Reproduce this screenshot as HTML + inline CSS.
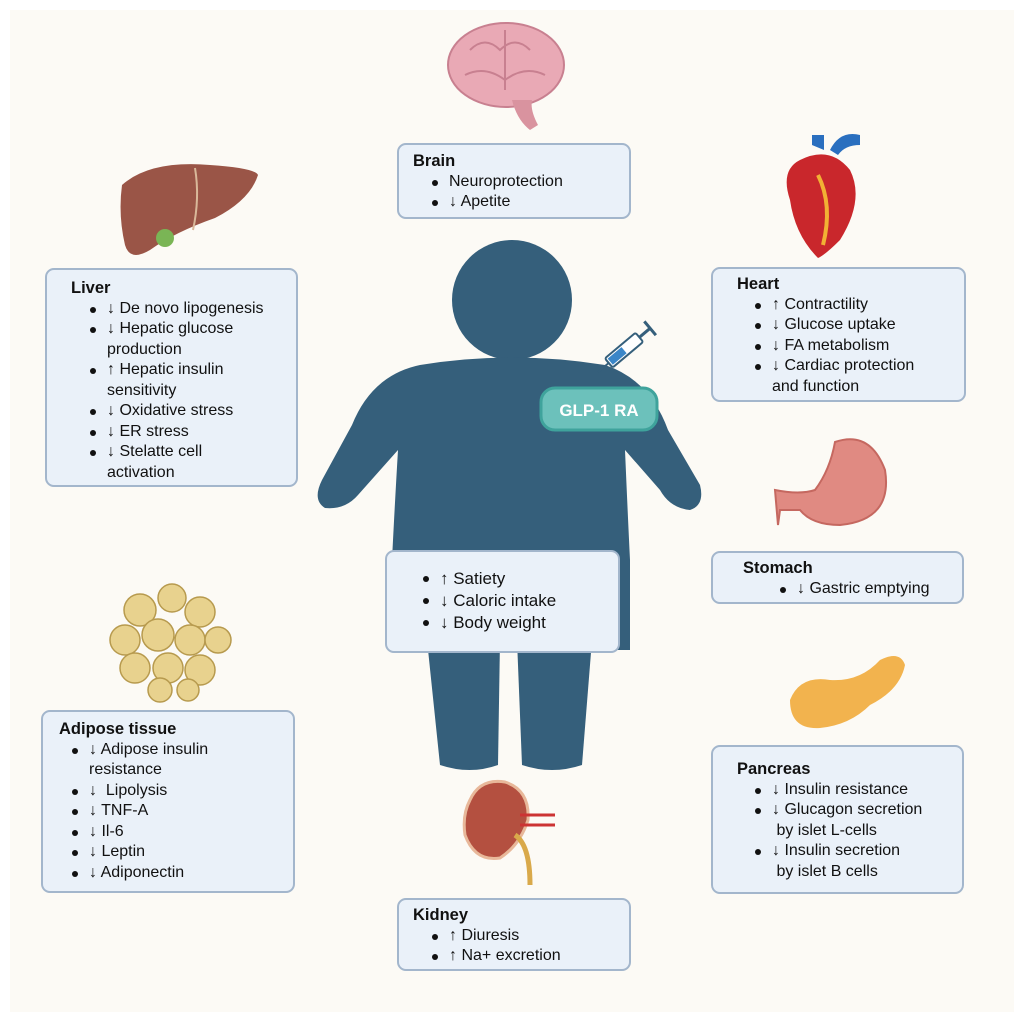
<!DOCTYPE html>
<html><head><meta charset="utf-8"><style>
body{margin:0;width:1024px;height:1022px;background:#fff;position:relative;overflow:hidden;font-family:"Liberation Sans",Arial,sans-serif;}
.bg{position:absolute;left:10px;top:10px;width:1004px;height:1002px;background:#fcfaf5;}
.box{position:absolute;background:#eaf1f9;border:2px solid #a3b6cc;border-radius:9px;box-sizing:border-box;font-size:16px;line-height:20.5px;color:#111;white-space:nowrap;}
.box b{display:block;font-size:16.5px;}
.box ul{margin:0;padding:0 0 0 36px;list-style:none;}
.box li{position:relative;}
.box li:before{content:"";position:absolute;left:-17px;top:8px;width:6px;height:6px;border-radius:50%;background:#111;}
svg{position:absolute;left:0;top:0;}
</style></head><body>
<div class="bg"></div>
<svg width="1024" height="1022">
 <g fill="#355f7b">
  <circle cx="512" cy="300" r="60"/>
  <path d="M420 365 Q512 350 605 365 Q650 380 668 430 L700 485 Q705 505 690 510 Q670 508 660 490 L625 450 Q628 520 630 560 L630 650 L390 650 L392 560 Q395 500 398 450 L358 495 Q345 510 325 508 Q312 500 322 480 L352 425 Q372 375 420 365 Z"/>
  <path d="M427 640 L500 640 L498 765 Q470 775 440 765 Z"/>
  <path d="M517 640 L592 640 L582 765 Q552 775 522 765 Z"/>
 </g>
 <g transform="translate(598,372) rotate(-40)">
  <line x1="0" y1="0" x2="14" y2="0" stroke="#355f7b" stroke-width="2"/>
  <rect x="14" y="-6" width="40" height="12" rx="2" fill="#fff" stroke="#355f7b" stroke-width="2"/>
  <rect x="16" y="-4" width="18" height="8" fill="#3a86c8"/>
  <line x1="54" y1="0" x2="68" y2="0" stroke="#355f7b" stroke-width="3"/>
  <line x1="68" y1="-9" x2="68" y2="9" stroke="#355f7b" stroke-width="3"/>
 </g>
 <rect x="541" y="388" width="116" height="42" rx="14" fill="#6cc1bb" stroke="#3fa39c" stroke-width="3"/>
 <text x="599" y="416" text-anchor="middle" font-family="Liberation Sans" font-weight="bold" font-size="17" fill="#fff">GLP-1 RA</text>
 <ellipse cx="506" cy="65" rx="58" ry="42" fill="#e9a9b5" stroke="#c88090" stroke-width="2"/>
 <path d="M470 50 q15 -15 30 0 q15 -15 30 0 M465 75 q20 -10 40 5 q20 -15 40 -5 M505 30 v60" stroke="#c88090" stroke-width="2" fill="none"/>
 <path d="M512 100 q5 20 18 30 l8 -5 q-8 -15 -6 -25z" fill="#d9939f"/>
 <path d="M122 185 Q150 160 210 165 Q255 168 258 175 Q250 200 215 218 Q175 232 150 250 Q130 262 125 245 Q118 215 122 185Z" fill="#9a5547"/>
 <circle cx="165" cy="238" r="9" fill="#7ab555"/>
 <path d="M195 168 q5 30 -2 62" stroke="#d9b89a" stroke-width="2" fill="none"/>
 <path d="M790 200 Q780 170 800 160 Q830 145 850 170 Q865 200 840 240 Q825 255 818 258 Q795 235 790 200Z" fill="#c9272c"/>
 <path d="M812 145 v-10 h12 v15 M830 150 q10 -20 30 -15 v10 q-15 0 -22 10" fill="#2a6fbf"/>
 <path d="M818 175 q15 30 5 70" stroke="#f2b134" stroke-width="4" fill="none"/>
 <path d="M835 442 Q870 430 885 470 Q893 520 840 525 Q812 525 800 510 L780 510 L778 525 L775 490 Q800 495 815 490 Q830 470 835 442Z" fill="#e08a82" stroke="#c56860" stroke-width="2"/>
 <g fill="#e8d28e" stroke="#b79a4e" stroke-width="1.5">
  <circle cx="140" cy="610" r="16"/><circle cx="172" cy="598" r="14"/><circle cx="200" cy="612" r="15"/><circle cx="125" cy="640" r="15"/><circle cx="158" cy="635" r="16"/><circle cx="190" cy="640" r="15"/><circle cx="218" cy="640" r="13"/><circle cx="135" cy="668" r="15"/><circle cx="168" cy="668" r="15"/><circle cx="200" cy="670" r="15"/><circle cx="160" cy="690" r="12"/><circle cx="188" cy="690" r="11"/>
 </g>
 <path d="M790 700 Q800 675 830 680 Q860 682 880 660 Q900 650 905 665 Q900 690 870 705 Q850 725 820 728 Q790 730 790 700Z" fill="#f2b34e"/>
 <path d="M470 800 Q480 778 505 782 Q530 790 528 820 Q520 845 500 858 Q475 862 465 835 Q462 815 470 800Z" fill="#b45040" stroke="#e8b89a" stroke-width="3"/>
 <path d="M520 815 h35 M520 825 h35" stroke="#c33" stroke-width="3"/>
 <path d="M515 835 q15 10 15 50" stroke="#d9a94a" stroke-width="5" fill="none"/>
</svg>

<div class="box" style="left:397px;top:143px;width:234px;height:76px;padding:6px 0 0 14px;"><b>Brain</b><ul><li>Neuroprotection</li><li>↓ Apetite</li></ul></div>

<div class="box" style="left:45px;top:268px;width:253px;height:219px;padding:8px 0 0 24px;"><b>Liver</b><ul><li>↓ De novo lipogenesis</li><li>↓ Hepatic glucose<br>production</li><li>↑ Hepatic insulin<br>sensitivity</li><li>↓ Oxidative stress</li><li>↓ ER stress</li><li>↓ Stelatte cell<br>activation</li></ul></div>

<div class="box" style="left:711px;top:267px;width:255px;height:135px;padding:5px 0 0 24px;"><b>Heart</b><ul style="padding-left:35px"><li>↑ Contractility</li><li>↓ Glucose uptake</li><li>↓ FA metabolism</li><li>↓ Cardiac protection<br>and function</li></ul></div>

<div class="box" style="left:711px;top:551px;width:253px;height:53px;padding:5px 0 0 30px;"><b>Stomach</b><ul style="padding-left:54px"><li>↓ Gastric emptying</li></ul></div>

<div class="box" style="left:385px;top:550px;width:235px;height:103px;padding:16px 0 0 0;font-size:17px;line-height:22px;"><ul style="padding-left:53px"><li>↑ Satiety</li><li>↓ Caloric intake</li><li>↓ Body weight</li></ul></div>

<div class="box" style="left:41px;top:710px;width:254px;height:183px;padding:7px 0 0 16px;"><b>Adipose tissue</b><ul style="padding-left:30px"><li>↓ Adipose insulin<br>resistance</li><li>↓&nbsp; Lipolysis</li><li>↓ TNF-A</li><li>↓ Il-6</li><li>↓ Leptin</li><li>↓ Adiponectin</li></ul></div>

<div class="box" style="left:711px;top:745px;width:253px;height:149px;padding:12px 0 0 24px;"><b>Pancreas</b><ul style="padding-left:35px"><li>↓ Insulin resistance</li><li>↓ Glucagon secretion<br>&nbsp;by islet L-cells</li><li>↓ Insulin secretion<br>&nbsp;by islet B cells</li></ul></div>

<div class="box" style="left:397px;top:898px;width:234px;height:73px;padding:5px 0 0 14px;"><b>Kidney</b><ul><li>↑ Diuresis</li><li>↑ Na+ excretion</li></ul></div>
</body></html>
